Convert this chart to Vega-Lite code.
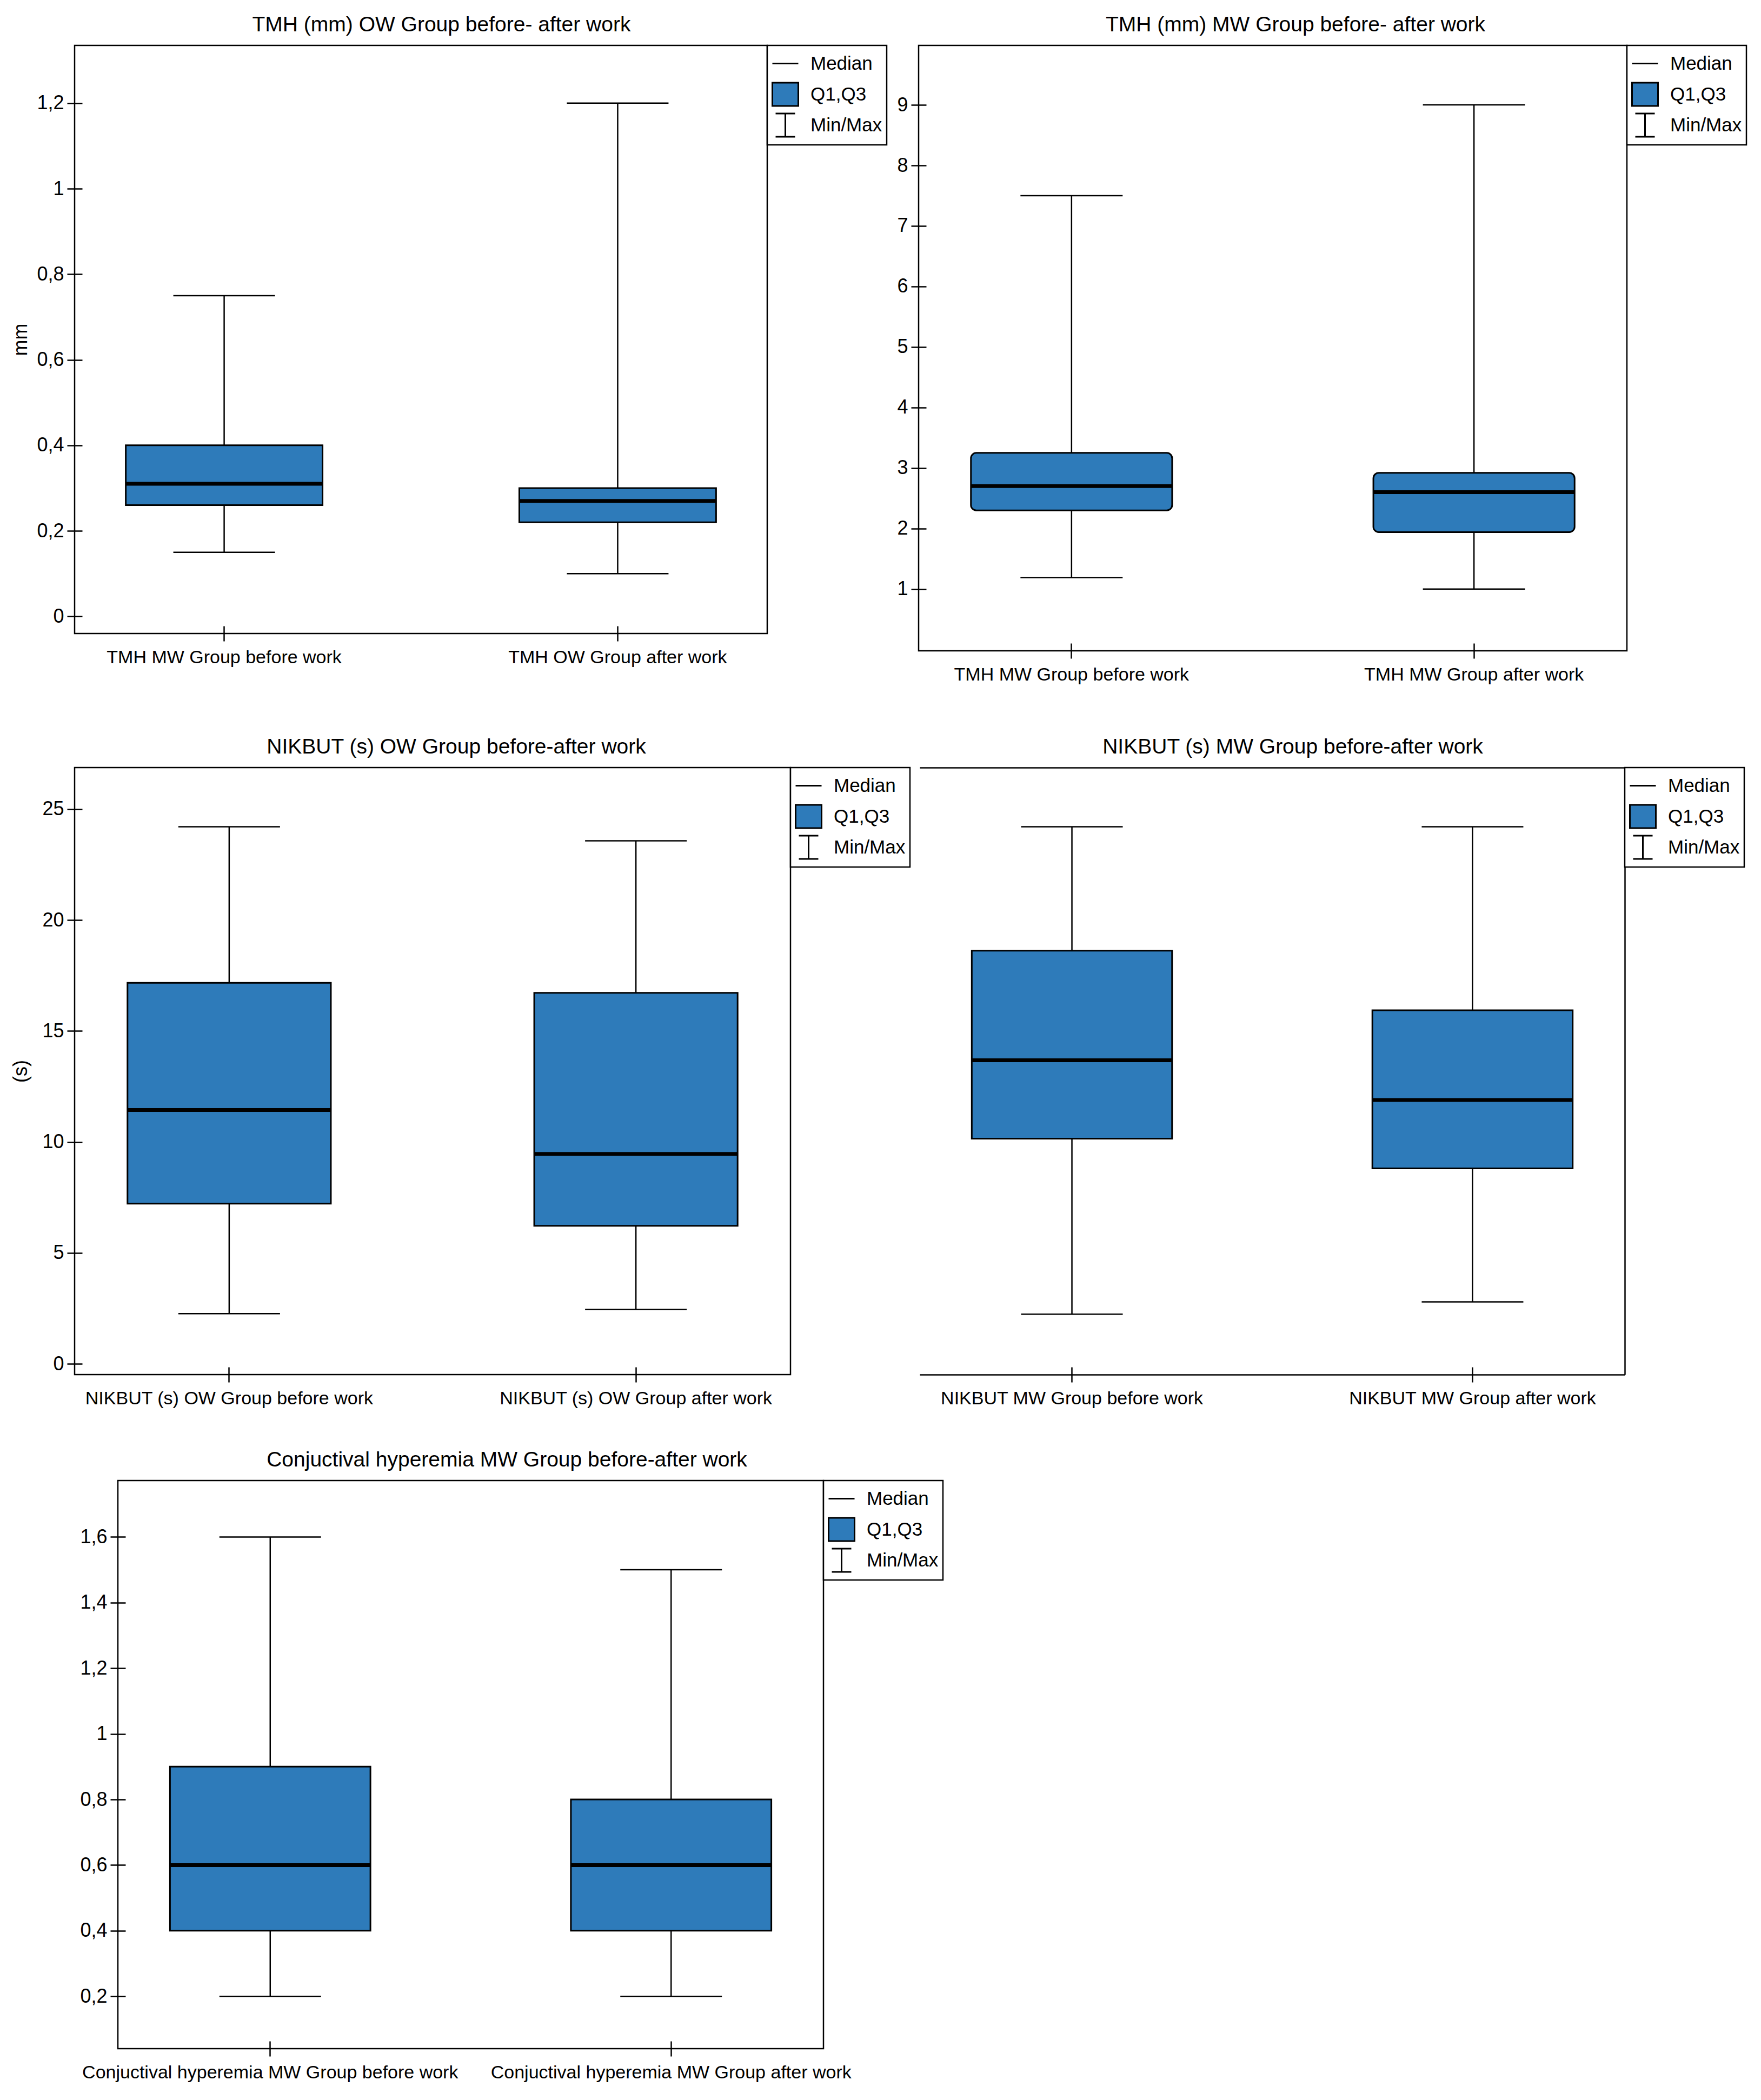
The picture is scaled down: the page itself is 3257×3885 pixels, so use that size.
{
  "$schema": "https://vega.github.io/schema/vega-lite/v6.json",
  "background": "white",
  "padding": {"left": 18, "top": 25, "right": 10, "bottom": 10},
  "datasets": {
    "tmh_ow": [
      {"group": "TMH MW Group before work", "min": 0.15, "q1": 0.26, "median": 0.31, "q3": 0.40, "max": 0.75},
      {"group": "TMH OW Group after work", "min": 0.10, "q1": 0.22, "median": 0.27, "q3": 0.30, "max": 1.2}
    ],
    "tmh_mw": [
      {"group": "TMH  MW Group before work", "min": 1.19, "q1": 2.30, "median": 2.70, "q3": 3.25, "max": 7.5},
      {"group": "TMH MW Group after work", "min": 1.0, "q1": 1.94, "median": 2.60, "q3": 2.92, "max": 9.0}
    ],
    "nikbut_ow": [
      {"group": "NIKBUT (s) OW Group before work", "min": 2.26, "q1": 7.22, "median": 11.44, "q3": 17.17, "max": 24.2},
      {"group": "NIKBUT (s) OW Group after work", "min": 2.45, "q1": 6.22, "median": 9.46, "q3": 16.72, "max": 23.57}
    ],
    "nikbut_mw": [
      {"group": "NIKBUT MW Group before work", "min": 2.24, "q1": 10.15, "median": 13.68, "q3": 18.62, "max": 24.2},
      {"group": "NIKBUT MW Group after work", "min": 2.79, "q1": 8.81, "median": 11.89, "q3": 15.93, "max": 24.2}
    ],
    "hyperemia": [
      {"group": "Conjuctival hyperemia MW Group before work", "min": 0.2, "q1": 0.4, "median": 0.6, "q3": 0.9, "max": 1.6},
      {"group": "Conjuctival hyperemia MW Group after work", "min": 0.2, "q1": 0.4, "median": 0.6, "q3": 0.8, "max": 1.5}
    ],
    "legendItems": [{"item": "Median"}, {"item": "Q1,Q3"}, {"item": "Min/Max"}]
  },
  "vconcat": [
    {
      "vconcat": [
        {
          "hconcat": [
            {
              "width": 1281, "height": 1088,
              "title": {"text": "TMH (mm)  OW Group before- after work", "dx": 38},
              "data": {"name": "tmh_ow"},
              "layer": [
                {"mark": {"type": "rule", "color": "black", "strokeWidth": 2.5},
                 "encoding": {
                   "x": {"field": "group", "type": "nominal", "sort": null, "title": null, "scale": {"paddingInner": 0.5, "paddingOuter": 0.13}},
                   "y": {"field": "min", "type": "quantitative", "title": "mm", "scale": {"domain": [-0.04, 1.335], "nice": false, "zero": false}, "axis": {"values": [0, 0.2, 0.4, 0.6, 0.8, 1, 1.2], "format": "~g", "labelExpr": "replace(datum.label, '.', ',')"}},
                   "y2": {"field": "max"}}},
                {"mark": {"type": "tick", "color": "black", "thickness": 2.5, "size": 188, "opacity": 1},
                 "encoding": {"x": {"field": "group", "type": "nominal", "sort": null, "title": null}, "y": {"field": "min", "type": "quantitative", "title": "mm"}}},
                {"mark": {"type": "tick", "color": "black", "thickness": 2.5, "size": 188, "opacity": 1},
                 "encoding": {"x": {"field": "group", "type": "nominal", "sort": null, "title": null}, "y": {"field": "max", "type": "quantitative", "title": "mm"}}},
                {"mark": {"type": "bar", "fill": "#2e7bba", "stroke": "black", "strokeWidth": 3},
                 "encoding": {"x": {"field": "group", "type": "nominal", "sort": null, "title": null}, "y": {"field": "q1", "type": "quantitative", "title": "mm"}, "y2": {"field": "q3"}}},
                {"mark": {"type": "tick", "color": "black", "thickness": 7, "size": 364, "opacity": 1},
                 "encoding": {"x": {"field": "group", "type": "nominal", "sort": null, "title": null}, "y": {"field": "median", "type": "quantitative", "title": "mm"}}},
                {"data": {"name": "legendItems"}, "transform": [{"filter": "false"}],
                 "mark": {"type": "point", "opacity": 1, "strokeWidth": 3},
                 "encoding": {
                   "shape": {"field": "item", "type": "nominal", "title": null, "scale": {"domain": ["Median", "Q1,Q3", "Min/Max"], "range": ["M-1,0H1M0,-0.9M0,0.9", "M-1,-0.9H1V0.9H-1Z", "M-0.75,-0.9H0.75M0,-0.9V0.9M-0.75,0.9H0.75"]}},
                   "fill": {"field": "item", "type": "nominal", "title": null, "scale": {"domain": ["Median", "Q1,Q3", "Min/Max"], "range": ["transparent", "#2e7bba", "transparent"]}},
                   "stroke": {"field": "item", "type": "nominal", "title": null, "scale": {"domain": ["Median", "Q1,Q3", "Min/Max"], "range": ["black", "black", "black"]}}}}
              ]
            },
            {
              "width": 1310, "height": 1120,
              "title": {"text": "TMH (mm)  MW Group before- after work", "dx": 42},
              "data": {"name": "tmh_mw"},
              "layer": [
                {"mark": {"type": "rule", "color": "black", "strokeWidth": 2.5},
                 "encoding": {
                   "x": {"field": "group", "type": "nominal", "sort": null, "title": null, "scale": {"paddingInner": 0.5, "paddingOuter": 0.13}},
                   "y": {"field": "min", "type": "quantitative", "title": null, "scale": {"domain": [-0.021, 9.983], "nice": false, "zero": false}, "axis": {"values": [1, 2, 3, 4, 5, 6, 7, 8, 9], "format": "~g", "minExtent": 0}},
                   "y2": {"field": "max"}}},
                {"mark": {"type": "tick", "color": "black", "thickness": 2.5, "size": 189, "opacity": 1},
                 "encoding": {"x": {"field": "group", "type": "nominal", "sort": null, "title": null}, "y": {"field": "min", "type": "quantitative", "title": null}}},
                {"mark": {"type": "tick", "color": "black", "thickness": 2.5, "size": 189, "opacity": 1},
                 "encoding": {"x": {"field": "group", "type": "nominal", "sort": null, "title": null}, "y": {"field": "max", "type": "quantitative", "title": null}}},
                {"mark": {"type": "bar", "fill": "#2e7bba", "stroke": "black", "strokeWidth": 3, "cornerRadius": 10},
                 "encoding": {"x": {"field": "group", "type": "nominal", "sort": null, "title": null}, "y": {"field": "q1", "type": "quantitative", "title": null}, "y2": {"field": "q3"}}},
                {"mark": {"type": "tick", "color": "black", "thickness": 7, "size": 372, "opacity": 1},
                 "encoding": {"x": {"field": "group", "type": "nominal", "sort": null, "title": null}, "y": {"field": "median", "type": "quantitative", "title": null}}},
                {"data": {"name": "legendItems"}, "transform": [{"filter": "false"}],
                 "mark": {"type": "point", "opacity": 1, "strokeWidth": 3},
                 "encoding": {
                   "shape": {"field": "item", "type": "nominal", "title": null, "scale": {"domain": ["Median", "Q1,Q3", "Min/Max"], "range": ["M-1,0H1M0,-0.9M0,0.9", "M-1,-0.9H1V0.9H-1Z", "M-0.75,-0.9H0.75M0,-0.9V0.9M-0.75,0.9H0.75"]}},
                   "fill": {"field": "item", "type": "nominal", "title": null, "scale": {"domain": ["Median", "Q1,Q3", "Min/Max"], "range": ["transparent", "#2e7bba", "transparent"]}},
                   "stroke": {"field": "item", "type": "nominal", "title": null, "scale": {"domain": ["Median", "Q1,Q3", "Min/Max"], "range": ["black", "black", "black"]}}}}
              ]
            }
          ],
          "spacing": 14,
          "resolve": {"scale": {"shape": "independent", "fill": "independent", "stroke": "independent"}, "legend": {"shape": "independent", "fill": "independent", "stroke": "independent"}}
        },
        {
          "hconcat": [
            {
              "width": 1324, "height": 1123,
              "title": {"text": "NIKBUT (s) OW Group before-after work", "dx": 44},
              "data": {"name": "nikbut_ow"},
              "layer": [
                {"mark": {"type": "rule", "color": "black", "strokeWidth": 2.5},
                 "encoding": {
                   "x": {"field": "group", "type": "nominal", "sort": null, "title": null, "scale": {"paddingInner": 0.5, "paddingOuter": 0.13}},
                   "y": {"field": "min", "type": "quantitative", "title": "(s)", "scale": {"domain": [-0.485, 26.87], "nice": false, "zero": false}, "axis": {"values": [0, 5, 10, 15, 20, 25], "format": "~g"}},
                   "y2": {"field": "max"}}},
                {"mark": {"type": "tick", "color": "black", "thickness": 2.5, "size": 188, "opacity": 1},
                 "encoding": {"x": {"field": "group", "type": "nominal", "sort": null, "title": null}, "y": {"field": "min", "type": "quantitative", "title": "(s)"}}},
                {"mark": {"type": "tick", "color": "black", "thickness": 2.5, "size": 188, "opacity": 1},
                 "encoding": {"x": {"field": "group", "type": "nominal", "sort": null, "title": null}, "y": {"field": "max", "type": "quantitative", "title": "(s)"}}},
                {"mark": {"type": "bar", "fill": "#2e7bba", "stroke": "black", "strokeWidth": 3},
                 "encoding": {"x": {"field": "group", "type": "nominal", "sort": null, "title": null}, "y": {"field": "q1", "type": "quantitative", "title": "(s)"}, "y2": {"field": "q3"}}},
                {"mark": {"type": "tick", "color": "black", "thickness": 7, "size": 376, "opacity": 1},
                 "encoding": {"x": {"field": "group", "type": "nominal", "sort": null, "title": null}, "y": {"field": "median", "type": "quantitative", "title": "(s)"}}},
                {"data": {"name": "legendItems"}, "transform": [{"filter": "false"}],
                 "mark": {"type": "point", "opacity": 1, "strokeWidth": 3},
                 "encoding": {
                   "shape": {"field": "item", "type": "nominal", "title": null, "scale": {"domain": ["Median", "Q1,Q3", "Min/Max"], "range": ["M-1,0H1M0,-0.9M0,0.9", "M-1,-0.9H1V0.9H-1Z", "M-0.75,-0.9H0.75M0,-0.9V0.9M-0.75,0.9H0.75"]}},
                   "fill": {"field": "item", "type": "nominal", "title": null, "scale": {"domain": ["Median", "Q1,Q3", "Min/Max"], "range": ["transparent", "#2e7bba", "transparent"]}},
                   "stroke": {"field": "item", "type": "nominal", "title": null, "scale": {"domain": ["Median", "Q1,Q3", "Min/Max"], "range": ["black", "black", "black"]}}}}
              ]
            },
            {
              "width": 1304, "height": 1123,
              "title": {"text": "NIKBUT (s) MW Group before-after work", "dx": 38},
              "view": {"stroke": null},
              "data": {"name": "nikbut_mw"},
              "resolve": {"axis": {"x": "independent", "y": "independent"}},
              "layer": [
                {"mark": {"type": "rule", "color": "black", "strokeWidth": 2.5},
                 "encoding": {
                   "x": {"field": "group", "type": "nominal", "sort": null, "title": null, "scale": {"paddingInner": 0.5, "paddingOuter": 0.13}, "axis": {"orient": "bottom"}},
                   "y": {"field": "min", "type": "quantitative", "title": null, "scale": {"domain": [-0.485, 26.87], "nice": false, "zero": false}, "axis": {"orient": "right", "offset": 0, "domain": true, "domainColor": "black", "domainWidth": 2.5, "ticks": false, "labels": false, "minExtent": 0}},
                   "y2": {"field": "max"}}},
                {"mark": {"type": "tick", "color": "black", "thickness": 2.5, "size": 188, "opacity": 1},
                 "encoding": {"x": {"field": "group", "type": "nominal", "sort": null, "title": null, "axis": {"orient": "bottom", "offset": 0, "domain": true, "domainColor": "black", "domainWidth": 2.5, "ticks": false, "labels": false, "minExtent": 0}}, "y": {"field": "min", "type": "quantitative", "title": null, "axis": null}}},
                {"mark": {"type": "tick", "color": "black", "thickness": 2.5, "size": 188, "opacity": 1},
                 "encoding": {"x": {"field": "group", "type": "nominal", "sort": null, "title": null, "axis": {"orient": "top", "offset": 0, "domain": true, "domainColor": "black", "domainWidth": 2.5, "ticks": false, "labels": false, "minExtent": 0}}, "y": {"field": "max", "type": "quantitative", "title": null, "axis": null}}},
                {"mark": {"type": "bar", "fill": "#2e7bba", "stroke": "black", "strokeWidth": 3},
                 "encoding": {"x": {"field": "group", "type": "nominal", "sort": null, "title": null, "axis": null}, "y": {"field": "q1", "type": "quantitative", "title": null, "axis": null}, "y2": {"field": "q3"}}},
                {"mark": {"type": "tick", "color": "black", "thickness": 7, "size": 370, "opacity": 1},
                 "encoding": {"x": {"field": "group", "type": "nominal", "sort": null, "title": null, "axis": null}, "y": {"field": "median", "type": "quantitative", "title": null, "axis": null}}},
                {"data": {"name": "legendItems"}, "transform": [{"filter": "false"}],
                 "mark": {"type": "point", "opacity": 1, "strokeWidth": 3},
                 "encoding": {
                   "shape": {"field": "item", "type": "nominal", "title": null, "scale": {"domain": ["Median", "Q1,Q3", "Min/Max"], "range": ["M-1,0H1M0,-0.9M0,0.9", "M-1,-0.9H1V0.9H-1Z", "M-0.75,-0.9H0.75M0,-0.9V0.9M-0.75,0.9H0.75"]}},
                   "fill": {"field": "item", "type": "nominal", "title": null, "scale": {"domain": ["Median", "Q1,Q3", "Min/Max"], "range": ["transparent", "#2e7bba", "transparent"]}},
                   "stroke": {"field": "item", "type": "nominal", "title": null, "scale": {"domain": ["Median", "Q1,Q3", "Min/Max"], "range": ["black", "black", "black"]}}}}
              ]
            }
          ],
          "spacing": 15,
          "resolve": {"scale": {"shape": "independent", "fill": "independent", "stroke": "independent"}, "legend": {"shape": "independent", "fill": "independent", "stroke": "independent"}}
        }
      ],
      "spacing": 94,
      "resolve": {"scale": {"shape": "independent", "fill": "independent", "stroke": "independent"}, "legend": {"shape": "independent", "fill": "independent", "stroke": "independent"}}
    },
    {
      "hconcat": [
        {
          "width": 7, "height": 1051,
          "view": {"stroke": null, "fill": "white"},
          "data": {"values": []},
          "mark": "point"
        },
        {
          "width": 1305, "height": 1051,
          "title": {"text": "Conjuctival hyperemia MW Group before-after work", "dx": 67},
          "data": {"name": "hyperemia"},
          "layer": [
            {"mark": {"type": "rule", "color": "black", "strokeWidth": 2.5},
             "encoding": {
               "x": {"field": "group", "type": "nominal", "sort": null, "title": null, "scale": {"paddingInner": 0.5, "paddingOuter": 0.13}},
               "y": {"field": "min", "type": "quantitative", "title": null, "scale": {"domain": [0.0406, 1.772], "nice": false, "zero": false}, "axis": {"values": [0.2, 0.4, 0.6, 0.8, 1, 1.2, 1.4, 1.6], "format": "~g", "labelExpr": "replace(datum.label, '.', ',')"}},
               "y2": {"field": "max"}}},
            {"mark": {"type": "tick", "color": "black", "thickness": 2.5, "size": 188, "opacity": 1},
             "encoding": {"x": {"field": "group", "type": "nominal", "sort": null, "title": null}, "y": {"field": "min", "type": "quantitative", "title": null}}},
            {"mark": {"type": "tick", "color": "black", "thickness": 2.5, "size": 188, "opacity": 1},
             "encoding": {"x": {"field": "group", "type": "nominal", "sort": null, "title": null}, "y": {"field": "max", "type": "quantitative", "title": null}}},
            {"mark": {"type": "bar", "fill": "#2e7bba", "stroke": "black", "strokeWidth": 3},
             "encoding": {"x": {"field": "group", "type": "nominal", "sort": null, "title": null}, "y": {"field": "q1", "type": "quantitative", "title": null}, "y2": {"field": "q3"}}},
            {"mark": {"type": "tick", "color": "black", "thickness": 7, "size": 371, "opacity": 1},
             "encoding": {"x": {"field": "group", "type": "nominal", "sort": null, "title": null}, "y": {"field": "median", "type": "quantitative", "title": null}}},
            {"data": {"name": "legendItems"}, "transform": [{"filter": "false"}],
             "mark": {"type": "point", "opacity": 1, "strokeWidth": 3},
             "encoding": {
               "shape": {"field": "item", "type": "nominal", "title": null, "scale": {"domain": ["Median", "Q1,Q3", "Min/Max"], "range": ["M-1,0H1M0,-0.9M0,0.9", "M-1,-0.9H1V0.9H-1Z", "M-0.75,-0.9H0.75M0,-0.9V0.9M-0.75,0.9H0.75"]}},
               "fill": {"field": "item", "type": "nominal", "title": null, "scale": {"domain": ["Median", "Q1,Q3", "Min/Max"], "range": ["transparent", "#2e7bba", "transparent"]}},
               "stroke": {"field": "item", "type": "nominal", "title": null, "scale": {"domain": ["Median", "Q1,Q3", "Min/Max"], "range": ["black", "black", "black"]}}}}
          ]
        }
      ],
      "spacing": 0,
      "resolve": {"scale": {"shape": "independent", "fill": "independent", "stroke": "independent"}, "legend": {"shape": "independent", "fill": "independent", "stroke": "independent"}}
    }
  ],
  "spacing": 74,
  "resolve": {"scale": {"shape": "independent", "fill": "independent", "stroke": "independent"}, "legend": {"shape": "independent", "fill": "independent", "stroke": "independent"}},
  "config": {
    "font": "Liberation Sans, Arial, sans-serif",
    "view": {"stroke": "black", "strokeWidth": 2.5},
    "axis": {"domain": false, "grid": false, "ticks": true, "tickColor": "black", "tickWidth": 2.5, "tickSize": 28, "offset": -14, "labelColor": "black", "labelFont": "Liberation Sans, Arial, sans-serif", "titleFont": "Liberation Sans, Arial, sans-serif", "titleColor": "black", "titleFontWeight": "normal", "labelLimit": 2000},
    "axisX": {"labelAngle": 0, "labelFontSize": 34, "labelPadding": 13, "bandPosition": 0.5},
    "axisY": {"labelFontSize": 36, "labelPadding": 6, "titleFontSize": 36, "titlePadding": 10, "minExtent": 85},
    "legend": {"orient": "right", "offset": 0, "padding": 8, "strokeColor": "black", "strokeWidth": 2.5, "fillColor": "white", "symbolSize": 2304, "symbolStrokeWidth": 3, "labelFontSize": 35, "labelFont": "Liberation Sans, Arial, sans-serif", "labelOffset": 21, "rowPadding": 0, "labelColor": "black", "labelLimit": 2000},
    "title": {"font": "Liberation Sans, Arial, sans-serif", "fontSize": 39, "fontWeight": "normal", "color": "black", "baseline": "alphabetic", "offset": 17, "frame": "group", "anchor": "middle"}
  }
}
